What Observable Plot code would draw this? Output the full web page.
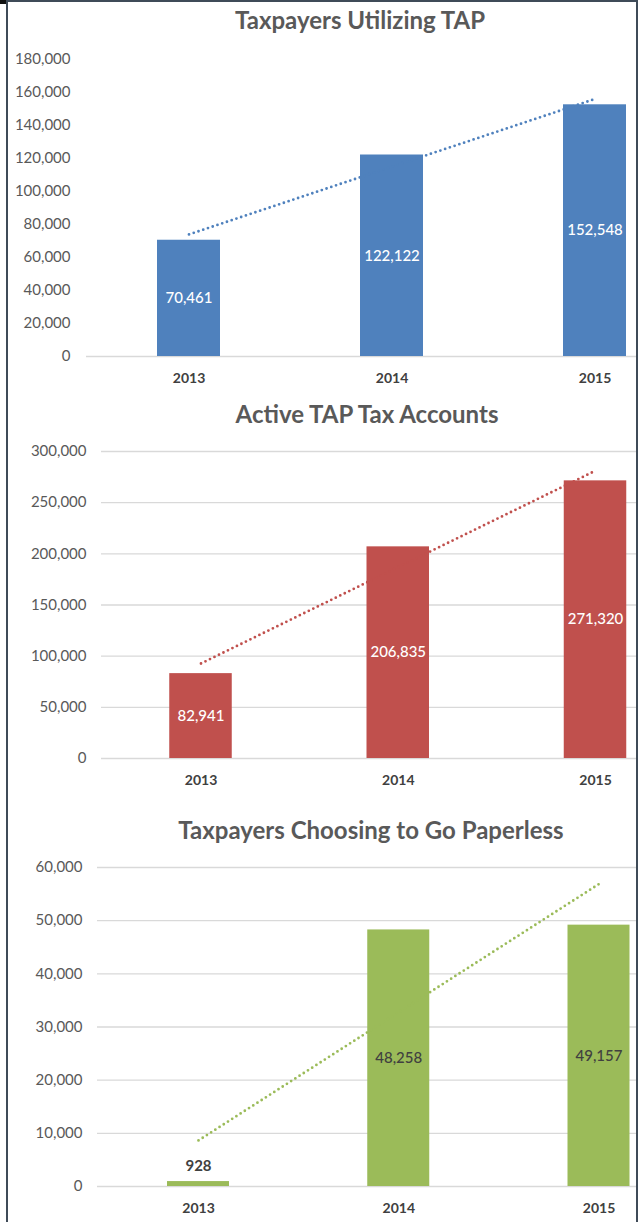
<!DOCTYPE html>
<html><head><meta charset="utf-8">
<script src="https://cdn.jsdelivr.net/npm/d3@7"></script>
<script src="https://cdn.jsdelivr.net/npm/@observablehq/plot@0.6"></script>
<style>
body{margin:0;background:#fff;}
#page{position:relative;width:640px;height:1222px;overflow:hidden;background:#fff;font-family:Lato,"Open Sans",sans-serif;}
.title{position:absolute;width:600px;text-align:center;font-weight:bold;font-size:24px;line-height:28px;color:#595959;white-space:nowrap;}
.chart{position:absolute;left:0;}
#frame{position:absolute;left:6px;top:0;width:628px;height:1240px;border:2px solid #3f4b58;pointer-events:none;}
#corner{position:absolute;left:0;top:0;width:6px;height:4px;background:#111;}
</style></head>
<body>
<div id="page"></div>
<script>
// ---- data ----
const years = ["2013", "2014", "2015"];
const taxpayersUtilizing = [70461, 122122, 152548];
const activeAccounts = [82941, 206835, 271320];
const goPaperless = [928, 48258, 49157];
const titles = ["Taxpayers Utilizing TAP", "Active TAP Tax Accounts", "Taxpayers Choosing to Go Paperless"];
const ticks1 = [0, 20000, 40000, 60000, 80000, 100000, 120000, 140000, 160000, 180000];
const ticks2 = [0, 50000, 100000, 150000, 200000, 250000, 300000];
const ticks3 = [0, 10000, 20000, 30000, 40000, 50000, 60000];

const page = document.getElementById("page");
const fmt = d3.format(",");

function makeChart(cfg) {
  const data = years.map((year, i) => ({year, value: cfg.values[i]}));
  const n = data.length;
  const xs = data.map((d, i) => i + 1);
  const mx = d3.mean(xs), my = d3.mean(data, d => d.value);
  const slope = d3.sum(data, (d, i) => (xs[i] - mx) * (d.value - my)) / d3.sum(xs, x => (x - mx) ** 2);
  const trend = data.map((d, i) => ({year: d.year, value: my + slope * (xs[i] - mx)}));
  const p = 1 - cfg.bandwidth / cfg.step;
  const r0 = cfg.firstCenter - cfg.step * (1 + p) / 2;
  const r1 = r0 + cfg.step * (n + p);
  const yMax = cfg.ticks[cfg.ticks.length - 1];
  const marks = [];
  if (cfg.grid) marks.push(Plot.gridY({ticks: cfg.ticks, stroke: "#d9d9d9", strokeOpacity: 1, strokeWidth: 1.3}));
  else marks.push(Plot.ruleY([0], {stroke: "#d9d9d9", strokeWidth: 1.3}));
  marks.push(Plot.barY(data, {x: "year", y: "value", fill: cfg.color}));
  marks.push(Plot.line(trend, {x: "year", y: "value", stroke: cfg.color, strokeWidth: 2.8, strokeDasharray: "0 5", strokeLinecap: "round"}));
  const inside = data.filter(d => d.value / yMax > 0.08);
  const outside = data.filter(d => d.value / yMax <= 0.08);
  marks.push(Plot.text(inside, {x: "year", y: d => d.value / 2, text: d => fmt(d.value), fill: cfg.labelColor, fontSize: 15, fontWeight: 500}));
  marks.push(Plot.text(outside, {x: "year", y: "value", text: d => fmt(d.value), fill: "#404040", fontSize: 15, fontWeight: "bold", dy: -15}));
  marks.push(Plot.axisY({ticks: cfg.ticks, tickSize: 0, tickPadding: cfg.tickPadding, tickFormat: fmt, fontSize: 15, color: "#595959", label: null}));
  marks.push(Plot.axisX({tickSize: 0, tickPadding: 17, fontSize: 14, fontWeight: "bold", color: "#404040", label: null}));
  const svg = Plot.plot({
    width: 640,
    height: cfg.H,
    marginTop: cfg.mt,
    marginBottom: cfg.mb,
    marginLeft: cfg.ml,
    marginRight: 3,
    x: {type: "band", domain: years, range: [r0, r1], padding: p, round: false, label: null},
    y: {domain: [0, yMax], label: null},
    style: {background: "transparent", fontFamily: "Lato, 'Open Sans', sans-serif", overflow: "visible"},
    marks
  });
  svg.classList.add("chart");
  svg.style.position = "absolute";
  svg.style.left = "0px";
  svg.style.top = cfg.top + "px";
  page.appendChild(svg);
  const t = document.createElement("div");
  t.className = "title";
  t.textContent = cfg.title;
  t.style.left = (cfg.titleCenter - 300) + "px";
  t.style.top = cfg.titleTop + "px";
  page.appendChild(t);
}

makeChart({values: taxpayersUtilizing, title: titles[0], ticks: ticks1, grid: false,
  color: "#4f81bd", labelColor: "#ffffff", top: 40, H: 350, mt: 19, mb: 34, ml: 86, tickPadding: 16,
  firstCenter: 188.5, step: 203, bandwidth: 63, titleCenter: 360, titleTop: 6});
makeChart({values: activeAccounts, title: titles[1], ticks: ticks2, grid: true,
  color: "#c0504d", labelColor: "#ffffff", top: 430, H: 365, mt: 21, mb: 37, ml: 101, tickPadding: 15,
  firstCenter: 200.5, step: 197.25, bandwidth: 62.5, titleCenter: 367, titleTop: 400});
makeChart({values: goPaperless, title: titles[2], ticks: ticks3, grid: true,
  color: "#9bbb59", labelColor: "#404040", top: 845, H: 377, mt: 22, mb: 36, ml: 97, tickPadding: 15,
  firstCenter: 198, step: 200.25, bandwidth: 62, titleCenter: 371, titleTop: 816});

const frame = document.createElement("div"); frame.id = "frame"; page.appendChild(frame);
const corner = document.createElement("div"); corner.id = "corner"; page.appendChild(corner);
</script>
</body></html>
